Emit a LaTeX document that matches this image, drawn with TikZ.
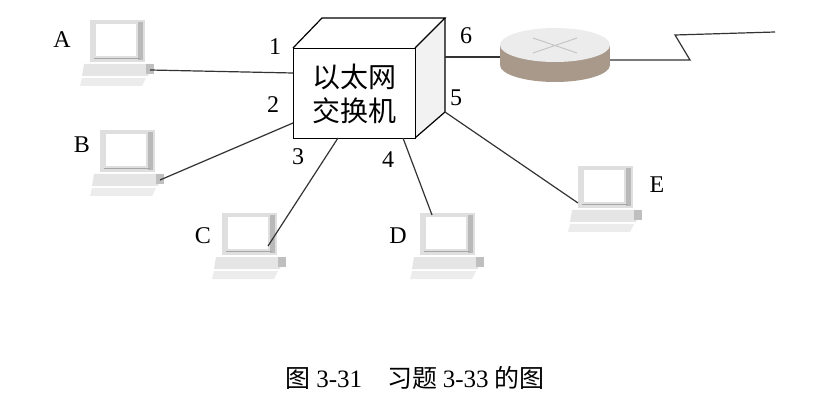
\documentclass[tikz,border=0pt]{standalone}
\usepackage{fontspec}
\setmainfont{Liberation Serif}
\newfontfamily\cjk{Noto Sans CJK SC}
\begin{document}
\begin{tikzpicture}[x=1pt,y=-1pt,
  lbl/.style={font=\fontsize{24}{24}\selectfont,inner sep=0pt},
  wire/.style={draw=black!80,line width=1.2pt},
  pc/.pic={
    \fill[gray!25] (0,0) rectangle (55,42);
    \fill[white] (6,4) rectangle (46,36);
    \fill[gray!55] (48,2) rectangle (53,40);
    \draw[gray!70,line width=0.8pt] (4,38) -- (50,38);
    \fill[gray!20] (-6,44) -- (62,44) -- (58,56) -- (-8,56) -- cycle;
    \fill[gray!15] (-8,58) -- (56,58) -- (52,66) -- (-10,66) -- cycle;
    \fill[gray!50] (56,44) rectangle (64,54);
    \coordinate (-port) at (60,50);
  }]
\useasboundingbox (0,0) rectangle (830,414);
% switch
\fill[gray!10] (415,48) -- (445,18) -- (445,112) -- (415,138) -- cycle;
\draw[line width=1.2pt] (293,48) -- (322,18) -- (445,18) -- (415,48);
\draw[line width=1.2pt] (445,18) -- (445,112) -- (415,138);
\node[draw,line width=1.2pt,fill=white,minimum width=122pt,minimum height=90pt,anchor=north west,inner sep=0pt,font=\cjk\fontsize{28}{34}\selectfont,align=center] (sw) at (293,48) {以太网\\交换机};
% router
\fill[gray!70!brown!80] (555,65) ellipse[x radius=55,y radius=17];
\fill[gray!70!brown!80] (500,45) rectangle (610,65);
\fill[gray!15] (555,45) ellipse[x radius=55,y radius=17];
\draw[gray!45,line width=1pt] (533,38) -- (577,53) (533,53) -- (577,38);
\node[inner sep=0pt,minimum width=110pt,minimum height=54pt] (rt) at (555,55) {};
\coordinate (wan) at (775,32);
\draw[wire] (445,57) -- (rt.west |- 0,57);
\draw[wire] (rt.east |- 0,60) -- (690,60) -- (675,35) -- (wan);
% PCs
\pic (A) at (90,20) {pc};
\pic (B) at (100,130) {pc};
\pic (C) at (222,213) {pc};
\pic (D) at (420,213) {pc};
\pic (E) at (578,166) {pc};
\draw[wire] (A-port) -- (293,73);
\draw[wire] (B-port) -- (293,123);
\draw[wire] (268,246) -- (338,138);
\draw[wire] (432,215) -- (403,138);
\draw[wire] (578,203) -- (445,112);
\node[lbl] (la) at (62,40) {A};
\node[lbl] (lb) at (82,145) {B};
\node[lbl] (lc) at (203,236) {C};
\node[lbl] (ld) at (398,236) {D};
\node[lbl] (le) at (657,185) {E};
\node[lbl] (p1) at (275,47) {1};
\node[lbl] (p2) at (273,105) {2};
\node[lbl] (p3) at (298,157) {3};
\node[lbl] (p4) at (388,160) {4};
\node[lbl] (p5) at (456,98) {5};
\node[lbl] (p6) at (466,36) {6};
\node[font=\cjk\fontsize{25}{25}\selectfont,inner sep=0pt] (cap) at (415,378) {图 {\rmfamily 3-31}\quad 习题 {\rmfamily 3-33} 的图};
\end{tikzpicture}
\end{document}
